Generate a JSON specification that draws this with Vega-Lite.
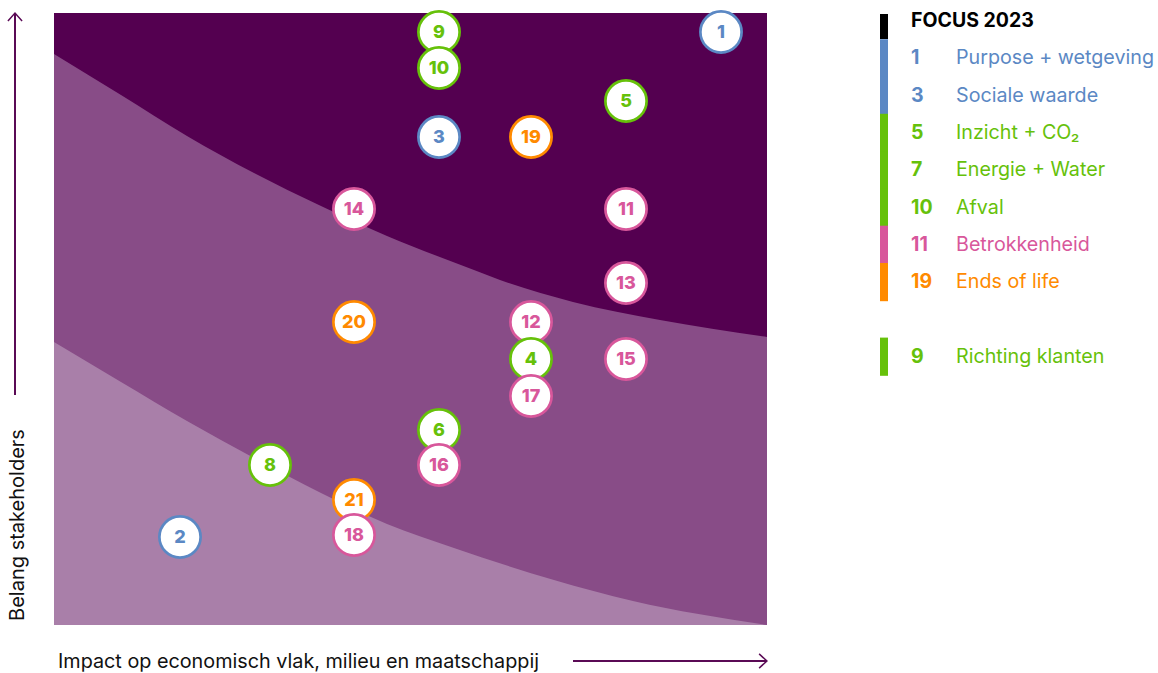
{
  "$schema": "https://vega.github.io/schema/vega-lite/v6.json",
  "width": 713,
  "height": 612,
  "autosize": {"type": "none"},
  "padding": {"left": 54, "top": 13, "right": 391, "bottom": 48},
  "background": "white",
  "config": {"view": {"stroke": null}, "font": "Inter"},
  "datasets": {
    "zone": [{"x0": 0, "x1": 713, "y0": 0, "y1": 612}],
    "upper": [
      {"x": 0, "y": 571}, {"x": 67, "y": 530}, {"x": 133, "y": 489}, {"x": 200, "y": 452},
      {"x": 267, "y": 419}, {"x": 333, "y": 389}, {"x": 420, "y": 355}, {"x": 446, "y": 345},
      {"x": 519, "y": 323}, {"x": 606, "y": 305}, {"x": 713, "y": 288}
    ],
    "lower": [
      {"x": 0, "y": 283}, {"x": 67, "y": 243}, {"x": 133, "y": 204}, {"x": 200, "y": 167},
      {"x": 267, "y": 132}, {"x": 333, "y": 101}, {"x": 400, "y": 77}, {"x": 500, "y": 45},
      {"x": 579, "y": 24}, {"x": 713, "y": 0}
    ],
    "topics": [
      {"id": "1", "group": "blauw", "x": 667, "y": 593},
      {"id": "9", "group": "groen", "x": 385, "y": 593},
      {"id": "10", "group": "groen", "x": 385, "y": 557},
      {"id": "5", "group": "groen", "x": 572, "y": 524},
      {"id": "3", "group": "blauw", "x": 385, "y": 488},
      {"id": "19", "group": "oranje", "x": 477, "y": 488},
      {"id": "14", "group": "roze", "x": 300, "y": 416},
      {"id": "11", "group": "roze", "x": 572, "y": 416},
      {"id": "13", "group": "roze", "x": 572, "y": 342},
      {"id": "20", "group": "oranje", "x": 300, "y": 303},
      {"id": "12", "group": "roze", "x": 477, "y": 303},
      {"id": "4", "group": "groen", "x": 477, "y": 266},
      {"id": "15", "group": "roze", "x": 572, "y": 266},
      {"id": "17", "group": "roze", "x": 477, "y": 229},
      {"id": "6", "group": "groen", "x": 385, "y": 195},
      {"id": "8", "group": "groen", "x": 216, "y": 160},
      {"id": "16", "group": "roze", "x": 385, "y": 160},
      {"id": "21", "group": "oranje", "x": 300, "y": 125},
      {"id": "18", "group": "roze", "x": 300, "y": 90},
      {"id": "2", "group": "blauw", "x": 126, "y": 88}
    ],
    "legend": [
      {"rank": 0, "num": "FOCUS 2023", "label": "", "group": "focus"},
      {"rank": 1, "num": "1", "label": "Purpose + wetgeving", "group": "blauw"},
      {"rank": 2, "num": "3", "label": "Sociale waarde", "group": "blauw"},
      {"rank": 3, "num": "5", "label": "Inzicht + CO₂", "group": "groen"},
      {"rank": 4, "num": "7", "label": "Energie + Water", "group": "groen"},
      {"rank": 5, "num": "10", "label": "Afval", "group": "groen"},
      {"rank": 6, "num": "11", "label": "Betrokkenheid", "group": "roze"},
      {"rank": 7, "num": "19", "label": "Ends of life", "group": "oranje"},
      {"rank": 9, "num": "9", "label": "Richting klanten", "group": "groen"}
    ],
    "one": [{}]
  },
  "resolve": {"scale": {"y": "independent"}},
  "layer": [
    {
      "layer": [
        {
          "data": {"name": "zone"},
          "mark": {"type": "rect", "color": "#540050"},
          "encoding": {
            "x": {"field": "x0", "type": "quantitative", "scale": {"domain": [0, 713], "nice": false, "zero": false}, "axis": null},
            "x2": {"field": "x1"},
            "y": {"field": "y0", "type": "quantitative", "scale": {"domain": [0, 612], "nice": false, "zero": false}, "axis": null},
            "y2": {"field": "y1"}
          }
        },
        {
          "data": {"name": "upper"},
          "mark": {"type": "area", "color": "#884c87", "interpolate": "monotone", "opacity": 1},
          "encoding": {
            "x": {"field": "x", "type": "quantitative"},
            "y": {"field": "y", "type": "quantitative"},
            "y2": {"datum": 0}
          }
        },
        {
          "data": {"name": "lower"},
          "mark": {"type": "area", "color": "#a97fa9", "interpolate": "monotone", "opacity": 1},
          "encoding": {
            "x": {"field": "x", "type": "quantitative"},
            "y": {"field": "y", "type": "quantitative"},
            "y2": {"datum": 0}
          }
        },
        {
          "data": {"name": "topics"},
          "mark": {"type": "point", "shape": "circle", "filled": true, "fill": "white", "strokeWidth": 2.7, "size": 1700, "opacity": 1},
          "encoding": {
            "x": {"field": "x", "type": "quantitative"},
            "y": {"field": "y", "type": "quantitative"},
            "stroke": {"field": "group", "type": "nominal", "scale": {"domain": ["blauw", "groen", "roze", "oranje", "focus"], "range": ["#5b88c4", "#66c10a", "#d8579b", "#ff8a00", "#000000"]}, "legend": null}
          }
        },
        {
          "data": {"name": "topics"},
          "mark": {"type": "text", "fontWeight": 800, "fontSize": 18, "align": "center", "baseline": "middle", "dy": 1},
          "encoding": {
            "x": {"field": "x", "type": "quantitative"},
            "y": {"field": "y", "type": "quantitative"},
            "text": {"field": "id"},
            "color": {"field": "group", "type": "nominal", "scale": {"domain": ["blauw", "groen", "roze", "oranje", "focus"], "range": ["#5b88c4", "#66c10a", "#d8579b", "#ff8a00", "#000000"]}, "legend": null}
          }
        },
        {
          "data": {"name": "one"},
          "mark": {"type": "rule", "color": "#5a0a55", "strokeWidth": 2},
          "encoding": {
            "x": {"datum": -39, "type": "quantitative"},
            "y": {"datum": 230, "type": "quantitative"},
            "y2": {"datum": 611}
          }
        },
        {
          "data": {"name": "one"},
          "mark": {"type": "rule", "color": "#5a0a55", "strokeWidth": 2},
          "encoding": {
            "x": {"datum": 519, "type": "quantitative"},
            "x2": {"datum": 712},
            "y": {"datum": -36, "type": "quantitative"}
          }
        },
        {
          "data": {"name": "one"},
          "mark": {"type": "point", "shape": "M-1,0.55L0,-0.55L1,0.55", "filled": false, "stroke": "#5a0a55", "strokeWidth": 1.5, "size": 200, "opacity": 1},
          "encoding": {
            "x": {"datum": -39, "type": "quantitative"},
            "y": {"datum": 608, "type": "quantitative"}
          }
        },
        {
          "data": {"name": "one"},
          "mark": {"type": "point", "shape": "M-0.55,-1L0.55,0L-0.55,1", "filled": false, "stroke": "#5a0a55", "strokeWidth": 1.5, "size": 200, "opacity": 1},
          "encoding": {
            "x": {"datum": 709, "type": "quantitative"},
            "y": {"datum": -36, "type": "quantitative"}
          }
        },
        {
          "data": {"name": "one"},
          "mark": {"type": "text", "text": "Belang stakeholders", "angle": 270, "align": "center", "baseline": "middle", "fontSize": 20, "color": "#111111"},
          "encoding": {
            "x": {"datum": -36, "type": "quantitative"},
            "y": {"datum": 100, "type": "quantitative"}
          }
        },
        {
          "data": {"name": "one"},
          "mark": {"type": "text", "text": "Impact op economisch vlak, milieu en maatschappij", "align": "left", "baseline": "middle", "fontSize": 19.8, "color": "#111111"},
          "encoding": {
            "x": {"datum": 4, "type": "quantitative"},
            "y": {"datum": -37, "type": "quantitative"}
          }
        }
      ]
    },
    {
      "data": {"name": "legend"},
      "layer": [
        {
          "transform": [{"filter": "datum.rank > 0"}],
          "mark": {"type": "tick", "orient": "vertical", "thickness": 8, "size": 38.2, "opacity": 1},
          "encoding": {
            "x": {"datum": 830, "type": "quantitative"},
            "y": {"field": "rank", "type": "quantitative", "scale": {"domain": [-0.2145, 16.193], "reverse": true, "nice": false, "zero": false}, "axis": null},
            "color": {"field": "group", "type": "nominal", "legend": null}
          }
        },
        {
          "transform": [{"filter": "datum.rank == 0"}],
          "mark": {"type": "tick", "orient": "vertical", "thickness": 8, "size": 25, "yOffset": 5.5, "opacity": 1},
          "encoding": {
            "x": {"datum": 830, "type": "quantitative"},
            "y": {"field": "rank", "type": "quantitative"},
            "color": {"field": "group", "type": "nominal", "legend": null}
          }
        },
        {
          "mark": {"type": "text", "fontWeight": "bold", "fontSize": 19.5, "align": "left", "baseline": "middle"},
          "encoding": {
            "x": {"datum": 857, "type": "quantitative"},
            "y": {"field": "rank", "type": "quantitative"},
            "text": {"field": "num"},
            "color": {"field": "group", "type": "nominal", "legend": null}
          }
        },
        {
          "mark": {"type": "text", "fontSize": 19.7, "align": "left", "baseline": "middle"},
          "encoding": {
            "x": {"datum": 902, "type": "quantitative"},
            "y": {"field": "rank", "type": "quantitative"},
            "text": {"field": "label"},
            "color": {"field": "group", "type": "nominal", "legend": null}
          }
        }
      ]
    }
  ]
}
